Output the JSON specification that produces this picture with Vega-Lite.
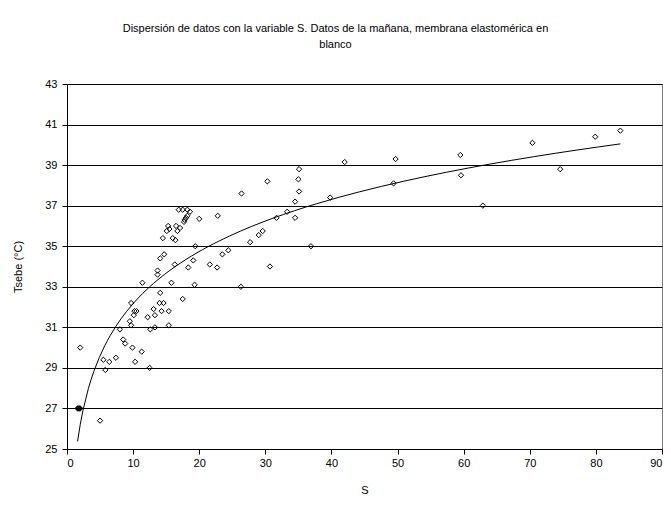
{
  "$schema": "https://vega.github.io/schema/vega-lite/v6.json",
  "width": 595,
  "height": 365,
  "autosize": {"type": "none"},
  "padding": {"left": 67, "top": 84, "right": 9, "bottom": 59},
  "background": "white",
  "config": {
    "font": "Liberation Sans",
    "view": {"stroke": "#808080", "strokeWidth": 1},
    "axis": {
      "labelFont": "Liberation Sans",
      "titleFont": "Liberation Sans",
      "labelFontSize": 11,
      "titleFontSize": 11,
      "titleFontWeight": "normal",
      "labelColor": "black",
      "titleColor": "black",
      "domainColor": "black",
      "tickColor": "black",
      "gridColor": "black",
      "gridOpacity": 1,
      "tickSize": 5
    }
  },
  "title": {
    "text": ["Dispersión de datos con la variable S. Datos de la mañana, membrana elastomérica en", "blanco"],
    "font": "Liberation Sans",
    "fontSize": 11,
    "fontWeight": "normal",
    "color": "black",
    "anchor": "middle",
    "frame": "group",
    "dx": -29,
    "offset": 28,
    "lineHeight": 16
  },
  "data": {
    "values": [
      {"S": 1.6, "T": 27.0}, {"S": 1.7, "T": 27.0}, {"S": 1.8, "T": 27.0}, {"S": 1.9, "T": 27.0}, {"S": 2.0, "T": 27.0},
      {"S": 2.0, "T": 30.0}, {"S": 5.0, "T": 26.4},
      {"S": 5.5, "T": 29.4}, {"S": 5.8, "T": 28.9}, {"S": 6.4, "T": 29.3}, {"S": 7.4, "T": 29.5},
      {"S": 8.0, "T": 30.9}, {"S": 8.5, "T": 30.4}, {"S": 8.8, "T": 30.2},
      {"S": 9.5, "T": 31.3}, {"S": 9.7, "T": 31.1}, {"S": 9.7, "T": 32.2}, {"S": 9.9, "T": 30.0},
      {"S": 10.2, "T": 31.8}, {"S": 10.5, "T": 31.8}, {"S": 10.1, "T": 31.6}, {"S": 10.3, "T": 29.3},
      {"S": 11.3, "T": 29.8}, {"S": 11.4, "T": 33.2}, {"S": 12.2, "T": 31.5}, {"S": 12.5, "T": 29.0},
      {"S": 12.6, "T": 30.9}, {"S": 13.1, "T": 31.9}, {"S": 13.3, "T": 31.6}, {"S": 13.3, "T": 31.0},
      {"S": 13.7, "T": 33.8}, {"S": 13.7, "T": 33.6}, {"S": 14.0, "T": 32.2}, {"S": 14.1, "T": 32.7},
      {"S": 14.1, "T": 34.4}, {"S": 14.3, "T": 31.8}, {"S": 14.6, "T": 32.2}, {"S": 14.7, "T": 34.6},
      {"S": 14.5, "T": 35.4}, {"S": 15.4, "T": 31.8}, {"S": 15.4, "T": 31.1}, {"S": 15.8, "T": 33.2},
      {"S": 15.1, "T": 35.75}, {"S": 15.3, "T": 36.0}, {"S": 15.5, "T": 35.85},
      {"S": 16.0, "T": 35.4}, {"S": 16.3, "T": 34.1}, {"S": 16.4, "T": 35.3}, {"S": 16.5, "T": 36.0},
      {"S": 16.7, "T": 35.75}, {"S": 17.1, "T": 35.9}, {"S": 16.9, "T": 36.8}, {"S": 17.5, "T": 36.8},
      {"S": 17.5, "T": 32.4}, {"S": 17.7, "T": 36.2}, {"S": 17.8, "T": 36.3}, {"S": 18.0, "T": 36.4},
      {"S": 18.2, "T": 36.5}, {"S": 18.2, "T": 36.8}, {"S": 18.6, "T": 36.7}, {"S": 18.35, "T": 33.95},
      {"S": 19.1, "T": 34.3}, {"S": 19.3, "T": 33.1}, {"S": 19.4, "T": 35.0}, {"S": 20.0, "T": 36.35},
      {"S": 21.6, "T": 34.1}, {"S": 22.7, "T": 33.95}, {"S": 22.8, "T": 36.5}, {"S": 23.5, "T": 34.6},
      {"S": 24.4, "T": 34.8}, {"S": 26.3, "T": 33.0}, {"S": 26.4, "T": 37.6}, {"S": 27.7, "T": 35.2},
      {"S": 29.0, "T": 35.55}, {"S": 29.6, "T": 35.75}, {"S": 30.3, "T": 38.2}, {"S": 30.7, "T": 34.0},
      {"S": 31.7, "T": 36.4}, {"S": 33.3, "T": 36.7}, {"S": 34.5, "T": 36.4}, {"S": 34.5, "T": 37.2},
      {"S": 35.1, "T": 37.7}, {"S": 35.0, "T": 38.3}, {"S": 35.1, "T": 38.8}, {"S": 36.9, "T": 35.0},
      {"S": 39.8, "T": 37.4}, {"S": 42.0, "T": 39.15}, {"S": 49.4, "T": 38.1}, {"S": 49.7, "T": 39.3},
      {"S": 59.5, "T": 39.5}, {"S": 59.6, "T": 38.5}, {"S": 62.9, "T": 37.0}, {"S": 70.4, "T": 40.1},
      {"S": 74.6, "T": 38.8}, {"S": 79.9, "T": 40.4}, {"S": 83.7, "T": 40.7}
    ]
  },
  "layer": [
    {
      "mark": {"type": "point", "shape": "diamond", "size": 28, "filled": false, "stroke": "black", "strokeWidth": 1, "opacity": 1},
      "encoding": {
        "x": {
          "field": "S", "type": "quantitative",
          "scale": {"domain": [0, 90], "nice": false},
          "axis": {"title": "S", "values": [0, 10, 20, 30, 40, 50, 60, 70, 80, 90], "grid": false, "labelPadding": 3, "titlePadding": 16}
        },
        "y": {
          "field": "T", "type": "quantitative",
          "scale": {"domain": [25, 43], "nice": false, "zero": false},
          "axis": {"title": "Tsebe (°C)", "values": [25, 27, 29, 31, 33, 35, 37, 39, 41, 43], "grid": true, "labelPadding": 5, "titlePadding": 21}
        }
      }
    },
    {
      "transform": [{"regression": "T", "on": "S", "method": "log"}],
      "mark": {"type": "line", "color": "black", "strokeWidth": 1},
      "encoding": {
        "x": {"field": "S", "type": "quantitative"},
        "y": {"field": "T", "type": "quantitative"}
      }
    }
  ]
}
